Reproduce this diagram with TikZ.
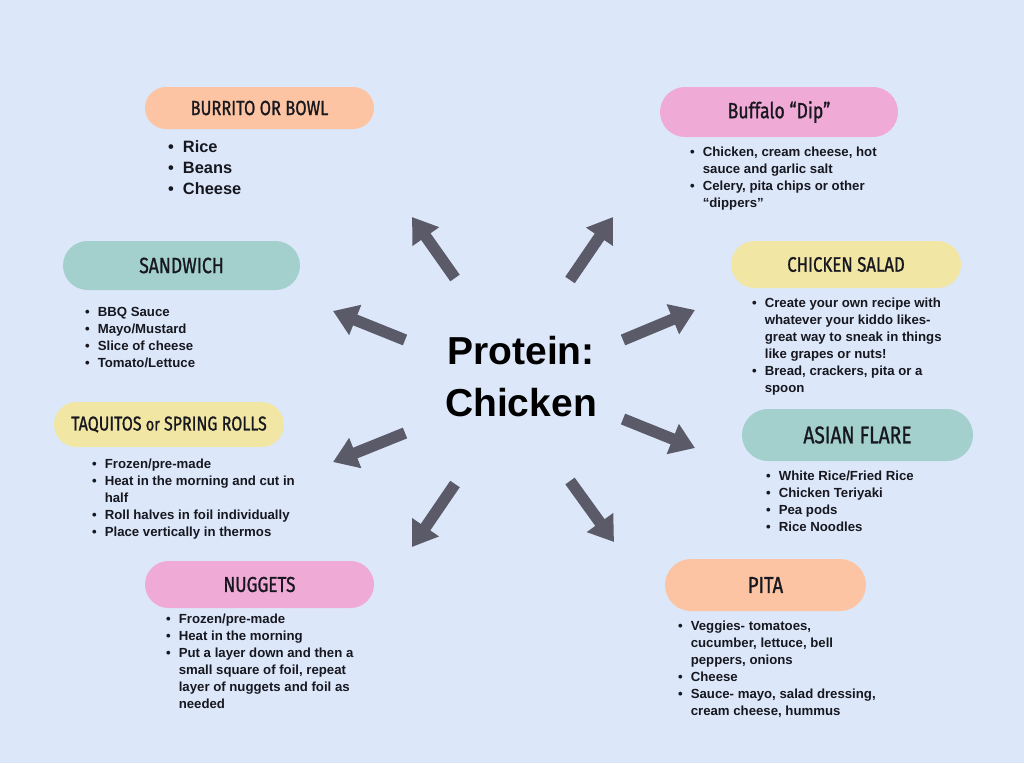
\documentclass[tikz,border=0pt]{standalone}
\usepackage{fontspec}
\setmainfont{Liberation Sans}
\newfontfamily\hdrfont[FakeStretch=0.8,FakeBold=1.0]{Fira Sans}
\usetikzlibrary{arrows.meta}
\definecolor{bg}{HTML}{DCE8FA}
\definecolor{peach}{HTML}{FCC4A2}
\definecolor{pinkc}{HTML}{F0AAD6}
\definecolor{tealc}{HTML}{A3CFCD}
\definecolor{yellowc}{HTML}{F1E6A4}
\definecolor{arrowc}{HTML}{5A5A68}
\definecolor{txt}{HTML}{17171F}
\tikzset{
  pill/.style={minimum height=#1, rounded corners=#1/2, inner sep=0pt, text=txt},
  pill/.default=48,
  hs/.style={font=\hdrfont\fontsize{#1}{#1}\selectfont},
  itemlist/.style={anchor=north west, inner sep=0pt, text=txt,
    font=\bfseries\fontsize{13.2}{17}\selectfont},
  bigarrow/.style={draw=arrowc, line width=11.5pt,
    -{Triangle[width=31pt,length=24pt]}},
}
\newcommand{\bl}{\textbullet}
\begin{document}
\begin{tikzpicture}[x=1pt,y=-1pt]
\fill[bg] (0,0) rectangle (1024,763);
\useasboundingbox (0,0) rectangle (1024,763);

% centre
\node[text=black, font=\bfseries\fontsize{39}{52}\selectfont, align=center, inner sep=0pt]
  (center) at (521,377) {Protein:\\Chicken};

% pills
\node[pill=42, fill=peach, minimum width=229, hs=20.5] (burrito) at (259.5,108) {BURRITO OR BOWL};
\node[pill=50, fill=pinkc, minimum width=238, hs=22] (buffalo) at (779,112) {Buffalo “Dip”};
\node[pill=49, fill=tealc, minimum width=237, hs=22] (sandwich) at (181.5,265.5) {SANDWICH};
\node[pill=47, fill=yellowc, minimum width=230, hs=21] (salad) at (846,264.5) {CHICKEN SALAD};
\node[pill=45, fill=yellowc, minimum width=230, hs=20] (taquitos) at (169,424.5) {TAQUITOS {\fontsize{18}{18}\selectfont or} SPRING ROLLS};
\node[pill=52, fill=tealc, minimum width=231, hs=24] (asian) at (857.5,435) {ASIAN FLARE};
\node[pill=47, fill=pinkc, minimum width=229, hs=21.5] (nuggets) at (259.5,584.5) {NUGGETS};
\node[pill=52, fill=peach, minimum width=201, hs=23] (pita) at (765.5,585) {PITA};

% lists
\node[itemlist, font=\bfseries\fontsize{16.4}{21}\selectfont] (burritolist) at (168,137.5) {%
\begin{tabular}{@{}l@{\hspace{9pt}}l@{}}
\bl & Rice\\ \bl & Beans\\ \bl & Cheese
\end{tabular}};
\node[itemlist] (buffalolist) at (690,144) {%
\begin{tabular}{@{}l@{\hspace{8pt}}l@{}}
\bl & Chicken, cream cheese, hot\\ & sauce and garlic salt\\
\bl & Celery, pita chips or other\\ & “dippers”
\end{tabular}};
\node[itemlist] (sandwichlist) at (85,304) {%
\begin{tabular}{@{}l@{\hspace{8pt}}l@{}}
\bl & BBQ Sauce\\ \bl & Mayo/Mustard\\ \bl & Slice of cheese\\ \bl & Tomato/Lettuce
\end{tabular}};
\node[itemlist] (saladlist) at (752,295) {%
\begin{tabular}{@{}l@{\hspace{8pt}}l@{}}
\bl & Create your own recipe with\\ & whatever your kiddo likes-\\ & great way to sneak in things\\ & like grapes or nuts!\\
\bl & Bread, crackers, pita or a\\ & spoon
\end{tabular}};
\node[itemlist] (taquitoslist) at (92,456) {%
\begin{tabular}{@{}l@{\hspace{8pt}}l@{}}
\bl & Frozen/pre-made\\ \bl & Heat in the morning and cut in\\ & half\\
\bl & Roll halves in foil individually\\ \bl & Place vertically in thermos
\end{tabular}};
\node[itemlist] (asianlist) at (766,468) {%
\begin{tabular}{@{}l@{\hspace{8pt}}l@{}}
\bl & White Rice/Fried Rice\\ \bl & Chicken Teriyaki\\ \bl & Pea pods\\ \bl & Rice Noodles
\end{tabular}};
\node[itemlist] (nuggetslist) at (166,611) {%
\begin{tabular}{@{}l@{\hspace{8pt}}l@{}}
\bl & Frozen/pre-made\\ \bl & Heat in the morning\\
\bl & Put a layer down and then a\\ & small square of foil, repeat\\ & layer of nuggets and foil as\\ & needed
\end{tabular}};
\node[itemlist] (pitalist) at (678,618) {%
\begin{tabular}{@{}l@{\hspace{8pt}}l@{}}
\bl & Veggies- tomatoes,\\ & cucumber, lettuce, bell\\ & peppers, onions\\
\bl & Cheese\\
\bl & Sauce- mayo, salad dressing,\\ & cream cheese, hummus
\end{tabular}};

% arrows
\coordinate (a1s) at (455,278); \coordinate (a1e) at (412,217);
\coordinate (a2s) at (570,280); \coordinate (a2e) at (613,217);
\coordinate (a3s) at (405,340); \coordinate (a3e) at (333,311);
\coordinate (a4s) at (623,340); \coordinate (a4e) at (695,310);
\coordinate (a5s) at (405,433); \coordinate (a5e) at (333,462);
\coordinate (a6s) at (623,419); \coordinate (a6e) at (695,448);
\coordinate (a7s) at (455,484); \coordinate (a7e) at (412,547);
\coordinate (a8s) at (570,481); \coordinate (a8e) at (614,542);
\foreach \i in {1,...,8} { \draw[bigarrow] (a\i s) -- (a\i e); }
\end{tikzpicture}
\end{document}
